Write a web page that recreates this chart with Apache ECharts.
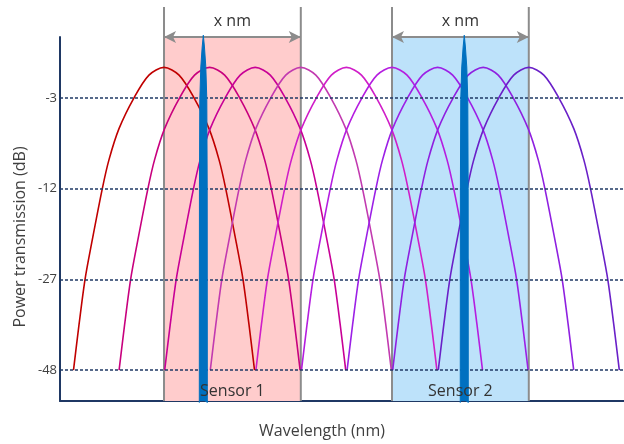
<!DOCTYPE html>
<html>
<head>
<meta charset="utf-8">
<script src="https://cdn.jsdelivr.net/npm/echarts@6/dist/echarts.min.js"></script>
<style>html,body{margin:0;padding:0;background:#fff}#c{width:624px;height:444px}</style>
</head>
<body>
<div id="c"></div>
<script>
// ---- data (x in channel-spacing units, y in tick-level units: 0=-48,1=-27,2=-12,3=-3) ----
var peakPositions = [0, 1, 2, 3, 4, 5, 6, 7, 8];
var curveColors = ['#c00000', '#c8007e', '#c80096', '#c23ab0', '#d01ec8', '#b51ee0', '#9c20e6', '#8f20e0', '#6a20c8'];
// half profile of each filter passband (offset from peak, level)
var profileOffsets = [0, 0.33, 0.658, 0.987, 1.206, 1.353, 1.586, 1.732, 1.864, 1.985];
var profileLevels  = [3.335, 3.25, 3.0, 2.66, 2.319, 2.0, 1.401, 1.0, 0.5, 0.0];
var tickLevels = [0, 1, 2, 3];
var tickLabels = ['-48', '-27', '-12', '-3'];
var sensorRanges = [[0, 3], [5, 8]];
var sensorFills = ['#ffcccc', '#bde2fa'];
var sensorNames = ['Sensor 1', 'Sensor 2'];
var sensorLabelLevel = -0.231;
var rangeLabel = 'x nm';
var spikeCenters = [0.862, 6.585];
var spikeOffsets = [0.088, 0.085, 0.077, 0.055, 0.025, 0];
var spikeLevels  = [-0.36, 2.0, 2.98, 3.34, 3.56, 3.69];
var yMin = -0.341, yMax = 3.67, boundaryTop = 4.0;

var FONT = 'Open Sans';
var series = [];

// sensor windows (fills)
series.push({
  type: 'line', data: [], z: 1, silent: true,
  markArea: {
    silent: true,
    data: sensorRanges.map(function (r, i) {
      return [{ xAxis: r[0], itemStyle: { color: sensorFills[i] } }, { xAxis: r[1] }];
    })
  }
});
// grey window boundaries
sensorRanges.forEach(function (r) {
  r.forEach(function (x) {
    series.push({
      type: 'line', z: 2, clip: false, silent: true, symbol: 'none',
      lineStyle: { color: '#8c8c8c', width: 2 },
      data: [[x, yMin], [x, boundaryTop]]
    });
  });
});
// width arrows with label
sensorRanges.forEach(function (r) {
  series.push({
    type: 'line', data: [], z: 3, clip: false, silent: true,
    markLine: {
      silent: true, symbol: ['arrow', 'arrow'], symbolSize: [9, 12],
      lineStyle: { color: '#8c8c8c', width: 2, type: 'solid' },
      label: { show: true, position: 'middle', formatter: rangeLabel, color: '#333333', fontSize: 16, fontFamily: FONT, distance: 8 },
      data: [[{ coord: [r[0], yMax] }, { coord: [r[1], yMax] }]]
    }
  });
});
// dotted level lines with tick labels
series.push({
  type: 'line', data: [], z: 3, silent: true,
  markLine: {
    silent: true, symbol: 'none',
    lineStyle: { color: '#1f3864', width: 1.5, type: [3, 2] },
    label: {
      show: true, position: 'start', distance: 3, color: '#404040', fontSize: 13, fontFamily: FONT,
      formatter: function (p) { return tickLabels[tickLevels.indexOf(p.value)]; }
    },
    data: tickLevels.map(function (v) { return { yAxis: v }; })
  }
});
// filter curves
peakPositions.forEach(function (p, i) {
  var pts = [];
  for (var k = profileOffsets.length - 1; k > 0; k--) pts.push([p - profileOffsets[k], profileLevels[k]]);
  for (var k2 = 0; k2 < profileOffsets.length; k2++) pts.push([p + profileOffsets[k2], profileLevels[k2]]);
  series.push({
    type: 'line', z: 4, symbol: 'none', smooth: 0.3, silent: true,
    lineStyle: { color: curveColors[i], width: 1.6 },
    data: pts
  });
});
// sensor reflection spikes
spikeCenters.forEach(function (c) {
  var pts = [];
  for (var k = 0; k < spikeOffsets.length; k++) pts.push([c - spikeOffsets[k], spikeLevels[k]]);
  for (var k2 = spikeOffsets.length - 2; k2 >= 0; k2--) pts.push([c + spikeOffsets[k2], spikeLevels[k2]]);
  series.push({
    type: 'line', z: 5, symbol: 'none', clip: false, silent: true,
    lineStyle: { color: '#0070c0', width: 1 },
    areaStyle: { color: '#0070c0', opacity: 1, origin: 'start' },
    data: pts
  });
});
// sensor labels
series.push({
  type: 'scatter', z: 6, symbolSize: 0, silent: true, clip: false,
  itemStyle: { opacity: 1 },
  label: {
    show: true, position: 'inside', color: '#333333', fontSize: 16, fontFamily: FONT,
    formatter: function (p) { return sensorNames[p.dataIndex]; }
  },
  data: sensorRanges.map(function (r) { return [(r[0] + r[1]) / 2, sensorLabelLevel]; })
});

var chart = echarts.init(document.getElementById('c'));
chart.setOption({
  animation: false,
  backgroundColor: '#ffffff',
  grid: { left: 60, right: 0, top: 37, bottom: 42 },
  xAxis: {
    type: 'value', min: -2.281, max: 10.088,
    axisLine: { show: true, onZero: false, lineStyle: { color: '#1f3864', width: 2 } },
    axisTick: { show: false }, axisLabel: { show: false }, splitLine: { show: false },
    name: 'Wavelength (nm)', nameLocation: 'middle', nameGap: 22,
    nameTextStyle: { color: '#404040', fontSize: 16, fontFamily: FONT, padding: [0, 40, 0, 0] }
  },
  yAxis: {
    type: 'value', min: yMin, max: yMax,
    axisLine: { show: true, onZero: false, lineStyle: { color: '#1f3864', width: 2 } },
    axisTick: { show: false }, axisLabel: { show: false }, splitLine: { show: false },
    name: 'Power transmission (dB)', nameLocation: 'middle', nameGap: 32,
    nameTextStyle: { color: '#404040', fontSize: 16, fontFamily: FONT, padding: [0, 36, 0, 0] }
  },
  series: series
});
</script>
</body>
</html>
